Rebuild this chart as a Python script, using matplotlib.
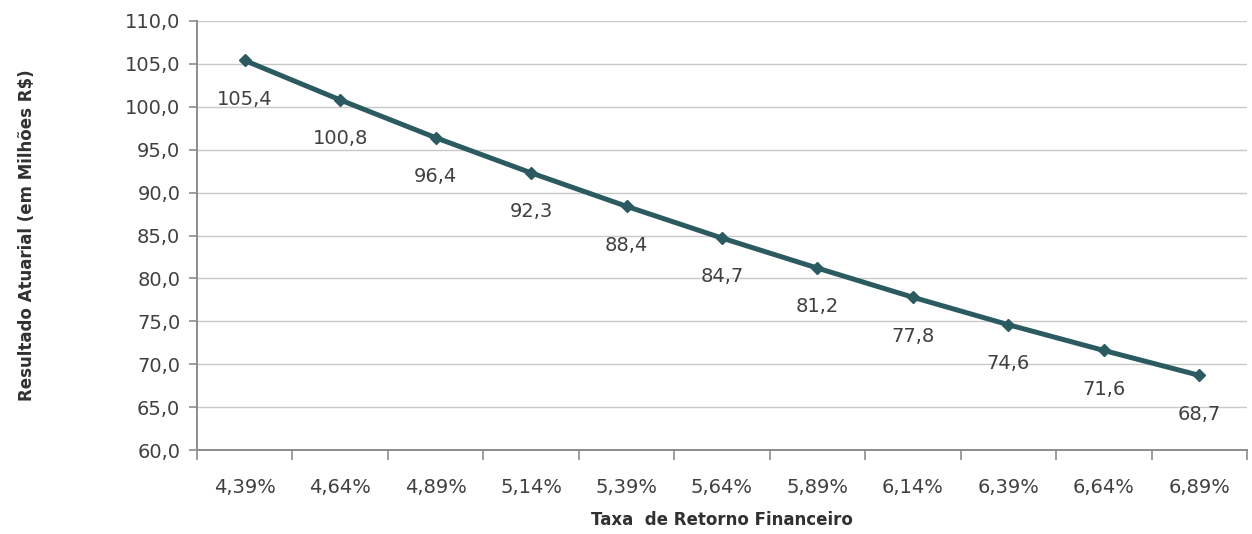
import numpy as np
import matplotlib.pyplot as plt
from matplotlib.ticker import FixedLocator, FuncFormatter

# dados
taxas = ["4,39%", "4,64%", "4,89%", "5,14%", "5,39%", "5,64%",
         "5,89%", "6,14%", "6,39%", "6,64%", "6,89%"]
resultado = [105.4, 100.8, 96.4, 92.3, 88.4, 84.7, 81.2, 77.8, 74.6, 71.6, 68.7]

cor_linha = "#2b5b60"
cor_texto = "#404040"

fig = plt.figure(figsize=(12.52, 5.34), dpi=100)
ax = fig.add_axes([197 / 1252, 1 - 450 / 534, 1050 / 1252, 429 / 534])

x = np.arange(len(taxas))
ax.plot(x, resultado, color=cor_linha, lw=3.6, marker="D", ms=6,
        mec=cor_linha, mfc=cor_linha, zorder=3, solid_capstyle="round")

for xi, v in zip(x, resultado):
    ax.annotate(f"{v:.1f}".replace(".", ","), (xi, v), xytext=(0, -28),
                textcoords="offset points", ha="center", va="center",
                fontsize=14, color=cor_texto)

ax.set_xlim(-0.5, len(taxas) - 0.5)
ax.set_ylim(60, 110)
ax.set_yticks(np.arange(60, 111, 5))
ax.yaxis.set_major_formatter(FuncFormatter(lambda v, p: f"{v:.1f}".replace(".", ",")))

ax.set_xticks(x)
ax.set_xticklabels(taxas)
ax.tick_params(axis="x", length=0, pad=20, labelsize=14, labelcolor=cor_texto)
ax.xaxis.set_minor_locator(FixedLocator(np.arange(-0.5, len(taxas), 1)))
ax.tick_params(axis="x", which="minor", length=7, width=1.2, color="#8c8c8c")
ax.tick_params(axis="y", length=6, width=1.2, color="#8c8c8c", pad=6,
               labelsize=14, labelcolor=cor_texto)

ax.grid(axis="y", color="#c8c8c8", lw=1)
ax.set_axisbelow(True)
for s in ["top", "right"]:
    ax.spines[s].set_visible(False)
for s in ["left", "bottom"]:
    ax.spines[s].set_color("#8c8c8c")
    ax.spines[s].set_linewidth(1.4)

ax.set_xlabel("Taxa  de Retorno Financeiro", fontsize=12, fontweight="bold",
              color="#303030")
ax.xaxis.set_label_coords(0.5, -0.143)
ax.set_ylabel("Resultado Atuarial (em Milhões R$)", fontsize=12, fontweight="bold",
              color="#303030")
ax.yaxis.set_label_coords(-161 / 1050, 0.5)

fig.savefig("out.png", dpi=100, facecolor="white")
